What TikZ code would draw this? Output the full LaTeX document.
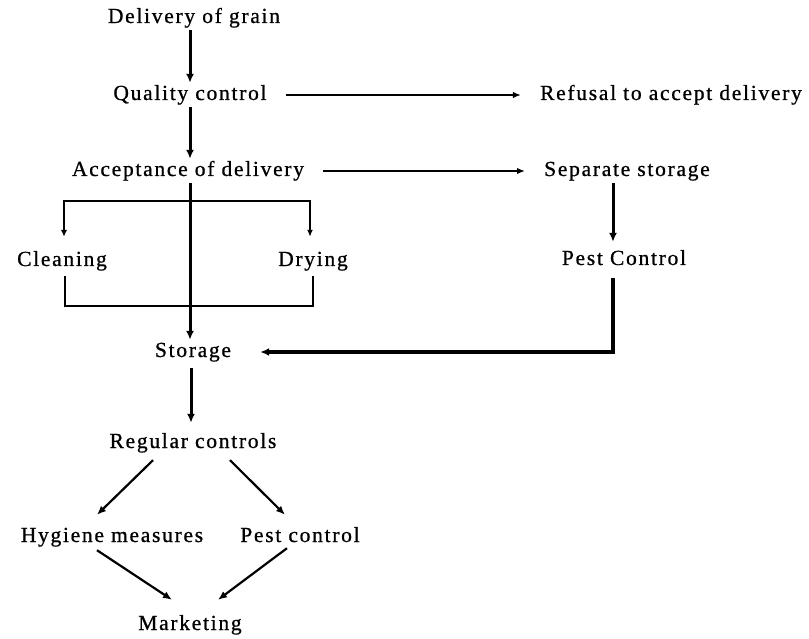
\documentclass[tikz,border=0pt]{standalone}
\usepackage{fontspec}
\setmainfont{Liberation Serif}[LetterSpace=8,FakeBold=0.8]
\usetikzlibrary{arrows.meta}
\begin{document}
\begin{tikzpicture}[x=1pt,y=-1pt,
  lbl/.style={font=\fontsize{21.5}{24}\selectfont, inner sep=3pt, text height=14pt, text depth=4pt},
  vconn/.style={line width=3pt, -{Latex[length=9pt,width=8pt]}},
  hconn/.style={line width=1.8pt, -{Latex[length=8pt,width=6.5pt]}},
  dconn/.style={line width=2.2pt, -{Latex[length=9pt,width=7.5pt]}},
  bline/.style={line width=2pt}]
\useasboundingbox (0,0) rectangle (809,639);
\node[lbl] (del) at (194,18) {Delivery of grain};
\node[lbl] (qc) at (190,95) {Quality control};
\node[lbl] (ref) at (671,95) {Refusal to accept delivery};
\node[lbl] (acc) at (188,171) {Acceptance of delivery};
\node[lbl] (sep) at (627,171) {Separate storage};
\node[lbl] (clean) at (62,261) {Cleaning};
\node[lbl] (dry) at (313,261) {Drying};
\node[lbl] (pc) at (624,260) {Pest Control};
\node[lbl] (stor) at (193,352) {Storage};
\node[lbl] (reg) at (193,443) {Regular controls};
\node[lbl] (hyg) at (112,537) {Hygiene measures};
\node[lbl] (pest) at (300,537) {Pest control};
\node[lbl] (mkt) at (190,625) {Marketing};
% top chain
\draw[vconn] (qc.north |- del.south) -- (qc.north);
\draw[vconn] (qc.south) -- (qc.south |- acc.north);
\draw[hconn] ([xshift=16pt]qc.east) -- ([xshift=-16pt]ref.west);
\draw[hconn] ([xshift=16pt]acc.east) -- ([xshift=-16pt]sep.west);
% central line to storage
\draw[vconn] ([xshift=2pt]acc.south) -- ([xshift=2pt]acc.south |- stor.north);
% bracket to cleaning / drying
\path ([xshift=2pt]acc.south) ++(0,18) coordinate (br);
\draw[bline, -{Latex[length=7pt,width=6.5pt]}] (br) -| ([xshift=2pt,yshift=12pt]clean.north);
\draw[line width=1.4pt, -{Latex[length=7pt,width=6pt]}] (br) -| ([xshift=-3pt,yshift=12pt]dry.north);
% bottom bracket
\draw[bline] ([xshift=3pt,yshift=-3pt]clean.south) -- ++(0,30) -| ([yshift=-3pt]dry.south);
% separate storage chain
\draw[vconn] ([xshift=-14pt]sep.south) -- ([xshift=-14pt,yshift=6pt]sep.south |- pc.north);
\draw[line width=3.2pt, -{Latex[length=9pt,width=8pt]}] ([xshift=-11pt,yshift=-6pt]pc.south) |- ([xshift=26pt]stor.east);
% storage to regular controls
\draw[vconn] ([xshift=-2pt,yshift=-4pt]stor.south) -- ([xshift=-2pt,yshift=8pt]stor.south |- reg.north);
% diamond
\draw[dconn] ([xshift=-40pt,yshift=-5pt]reg.south) -- ([xshift=-15pt,yshift=10pt]hyg.north);
\draw[dconn] ([xshift=37pt,yshift=-5pt]reg.south) -- ([xshift=-15pt,yshift=10pt]pest.north);
\draw[dconn] ([xshift=-15pt,yshift=-1pt]hyg.south) -- ([xshift=-18pt,yshift=13pt]mkt.north);
\draw[dconn] ([xshift=-13pt,yshift=1pt]pest.south) -- ([xshift=28pt,yshift=13pt]mkt.north);
\end{tikzpicture}
\end{document}
